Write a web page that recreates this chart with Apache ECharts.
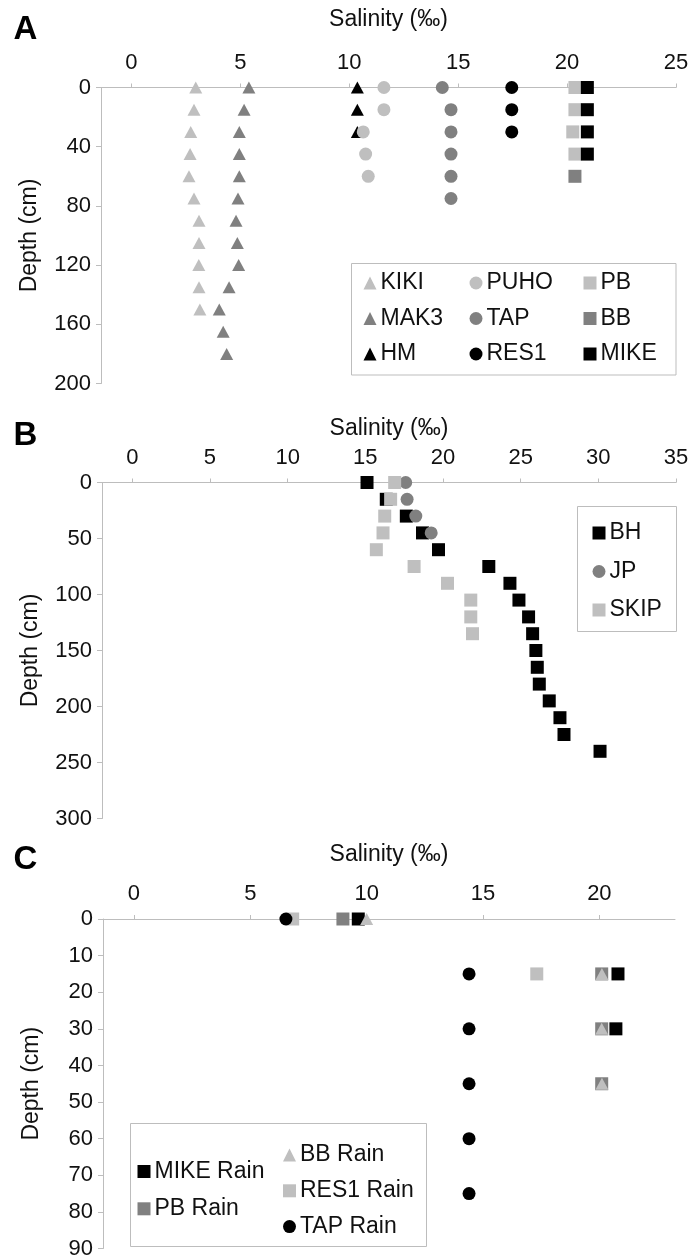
<!DOCTYPE html>
<html><head><meta charset="utf-8">
<script src="https://cdn.jsdelivr.net/npm/echarts@6/dist/echarts.min.js"></script>
<style>html,body{margin:0;padding:0;background:#fff}#c{width:696px;height:1260px}</style>
</head><body><div id="c"></div>
<script>
// ---------- Panel A ----------
const depthA = [0, 15, 30, 45, 60, 75, 90, 105, 120, 135, 150, 165, 180];
const kikiA = [2.95, 2.87, 2.72, 2.69, 2.64, 2.87, 3.10, 3.10, 3.09, 3.10, 3.14];
const mak3A = [5.39, 5.17, 4.95, 4.95, 4.95, 4.89, 4.80, 4.86, 4.92, 4.48, 4.03, 4.21, 4.37];
const hmA = [10.37, 10.37, 10.37];
const puhoA = [11.59, 11.59, 10.64, 10.75, 10.87];
const tapA = [14.27, 14.67, 14.67, 14.67, 14.67, 14.67];
const res1A = [17.46, 17.46, 17.46];
const pbA = [20.36, 20.36, 20.26, 20.36];
const bbDepthA = [60];
const bbA = [20.36];
const mikeA = [20.93, 20.93, 20.93, 20.93];
const xTicksA = [0, 5, 10, 15, 20, 25];

// ---------- Panel B ----------
const depthB = [0, 15, 30, 45, 60, 75, 90, 105, 120, 135, 150, 165, 180, 195, 210, 225, 240];
const bhB = [15.11, 16.35, 17.64, 18.68, 19.71, 22.95, 24.31, 24.89, 25.51, 25.77, 25.98, 26.07, 26.20, 26.84, 27.53, 27.79, 30.11];
const jpB = [17.60, 17.69, 18.25, 19.24];
const skipB = [16.89, 16.63, 16.25, 16.14, 15.71, 18.14, 20.29, 21.79, 21.79, 21.90];
const xTicksB = [0, 5, 10, 15, 20, 25, 30, 35];

// ---------- Panel C ----------
const depthC = [0, 15, 30, 45, 60, 75];
const mikeRainC = [9.64, 20.80, 20.71];
const pbRainC = [8.98, 20.10, 20.10, 20.10];
const bbRainC = [10.00, 20.11, 20.10, 20.11];
const res1RainC = [6.82, 17.31];
const tapRainC = [6.53, 14.40, 14.40, 14.40, 14.40, 14.40];
const xTicksC = [0, 5, 10, 15, 20];

const LIGHT = '#bfbfbf', MID = '#808080', BLACK = '#000000';
const FONT = '"Liberation Sans", Arial, sans-serif';
const AXC = '#bdbdbd';

function pts(sal, depths) { return sal.map((v, i) => [v, depths[i]]); }
function ser(name, sal, depths, symbol, color, g) {
  const size = symbol === 'triangle' ? [13, 12] : 13;
  return { name, type: 'scatter', xAxisIndex: g, yAxisIndex: g, data: pts(sal, depths),
    symbol, symbolSize: size, itemStyle: { color, opacity: 1 }, emphasis: { disabled: true } };
}
function xAx(g, min, max, ticks, gap) {
  return { gridIndex: g, type: 'value', position: 'top', min, max,
    axisLine: { show: true, onZero: false, lineStyle: { color: AXC, width: 1 } },
    axisTick: { show: true, customValues: ticks, length: 4, lineStyle: { color: AXC } },
    axisLabel: { customValues: ticks, margin: 14, fontSize: 22, color: '#111', fontFamily: FONT },
    splitLine: { show: false },
    name: 'Salinity (‰)', nameLocation: 'middle', nameGap: gap,
    nameTextStyle: { fontSize: 23, color: '#111', fontFamily: FONT } };
}
function yAx(g, max, interval) {
  return { gridIndex: g, type: 'value', inverse: true, min: 0, max, interval,
    axisLine: { show: true, onZero: false, lineStyle: { color: AXC, width: 1 } },
    axisTick: { show: true, length: 5, lineStyle: { color: AXC } },
    axisLabel: { margin: 10, fontSize: 22, color: '#111', fontFamily: FONT },
    splitLine: { show: false },
    name: 'Depth (cm)', nameLocation: 'middle', nameRotate: 90, nameGap: 60,
    nameTextStyle: { fontSize: 23, color: '#111', fontFamily: FONT } };
}
function leg(names, left, top, gap) {
  return { data: names, orient: 'vertical', left, top, itemGap: gap, padding: 0,
    itemWidth: 13, itemHeight: 13, selectedMode: false,
    textStyle: { fontSize: 23, lineHeight: 23, color: '#111', fontFamily: FONT, padding: [0, 0, 0, -1] } };
}

const chart = echarts.init(document.getElementById('c'), null, { renderer: 'canvas' });
chart.setOption({
  animation: false,
  backgroundColor: '#fff',
  grid: [
    { left: 101, top: 87.5, width: 575, height: 296 },
    { left: 102, top: 482.5, width: 574, height: 336 },
    { left: 103, top: 919, width: 572, height: 329.5 }
  ],
  xAxis: [
    xAx(0, -1.4, 25, xTicksA, 56),
    xAx(1, -1.95, 35, xTicksB, 42),
    xAx(2, -1.33, 23.25, xTicksC, 53)
  ],
  yAxis: [yAx(0, 200, 40), yAx(1, 300, 50), yAx(2, 90, 10)],
  legend: [
    leg(['KIKI', 'MAK3', 'HM'], 363.5, 271.5, 12.5),
    leg(['PUHO', 'TAP', 'RES1'], 469.5, 271.5, 12.5),
    leg(['PB', 'BB', 'MIKE'], 583.5, 271.5, 12.5),
    leg(['BH', 'JP', 'SKIP'], 592.5, 521.5, 15.5),
    leg(['MIKE Rain', 'PB Rain'], 137.5, 1160, 14.3),
    leg(['BB Rain', 'RES1 Rain', 'TAP Rain'], 283, 1143.5, 12.8)
  ],
  series: [
    ser('KIKI', kikiA, depthA, 'triangle', LIGHT, 0),
    ser('MAK3', mak3A, depthA, 'triangle', MID, 0),
    ser('HM', hmA, depthA, 'triangle', BLACK, 0),
    ser('PUHO', puhoA, depthA, 'circle', LIGHT, 0),
    ser('TAP', tapA, depthA, 'circle', MID, 0),
    ser('RES1', res1A, depthA, 'circle', BLACK, 0),
    ser('PB', pbA, depthA, 'rect', LIGHT, 0),
    ser('BB', bbA, bbDepthA, 'rect', MID, 0),
    ser('MIKE', mikeA, depthA, 'rect', BLACK, 0),
    ser('BH', bhB, depthB, 'rect', BLACK, 1),
    ser('JP', jpB, depthB, 'circle', MID, 1),
    ser('SKIP', skipB, depthB, 'rect', LIGHT, 1),
    ser('MIKE Rain', mikeRainC, depthC, 'rect', BLACK, 2),
    ser('PB Rain', pbRainC, depthC, 'rect', MID, 2),
    ser('BB Rain', bbRainC, depthC, 'triangle', LIGHT, 2),
    ser('RES1 Rain', res1RainC, depthC, 'rect', LIGHT, 2),
    ser('TAP Rain', tapRainC, depthC, 'circle', BLACK, 2)
  ],
  graphic: [
    { type: 'text', style: { x: 25.5, y: 30, text: 'A', align: 'center', verticalAlign: 'middle', font: 'bold 33px ' + FONT, fill: '#000' } },
    { type: 'text', style: { x: 25.5, y: 436, text: 'B', align: 'center', verticalAlign: 'middle', font: 'bold 33px ' + FONT, fill: '#000' } },
    { type: 'text', style: { x: 25.5, y: 860, text: 'C', align: 'center', verticalAlign: 'middle', font: 'bold 33px ' + FONT, fill: '#000' } },
    { type: 'rect', shape: { x: 351.5, y: 263.5, width: 324.5, height: 111.5 }, style: { fill: 'none', stroke: AXC, lineWidth: 1 } },
    { type: 'rect', shape: { x: 577.5, y: 506.5, width: 99, height: 125 }, style: { fill: 'none', stroke: AXC, lineWidth: 1 } },
    { type: 'rect', shape: { x: 130.5, y: 1123.5, width: 296, height: 123 }, style: { fill: 'none', stroke: AXC, lineWidth: 1 } }
  ]
});
</script>
</body></html>
